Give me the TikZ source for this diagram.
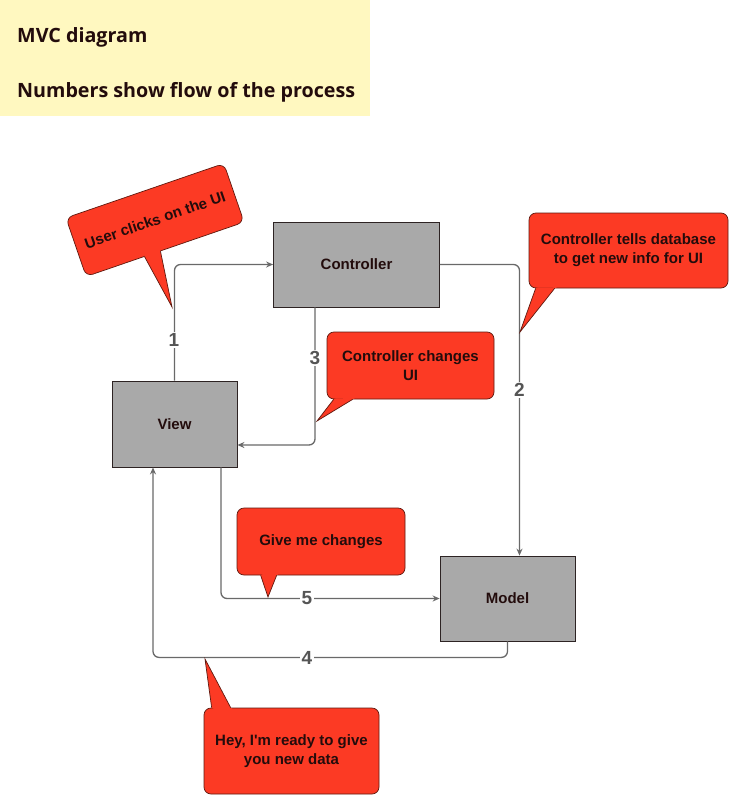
\documentclass[tikz,border=0pt]{standalone}
\usepackage{fontspec}
\setmainfont{Liberation Sans}
\newfontfamily\plainsans{Liberation Sans}
\newfontfamily\notefont{Open Sans}
\usetikzlibrary{arrows.meta,calc}
\definecolor{notey}{RGB}{255,248,192}
\definecolor{boxgray}{RGB}{169,169,169}
\definecolor{boxborder}{RGB}{45,35,35}
\definecolor{cred}{RGB}{252,58,36}
\definecolor{cborder}{RGB}{95,25,15}
\definecolor{txt}{RGB}{35,12,12}
\definecolor{linegray}{RGB}{105,105,105}
\definecolor{numgray}{RGB}{85,85,85}
\newcommand\calltail[4]{%
  \fill[cred] ($(#2)!2.5pt!(#1.center)$) -- (#2) -- (#4) -- (#3) -- ($(#3)!2.5pt!(#1.center)$) -- cycle;
  \draw[cborder, line width=0.7pt, line join=miter] (#2) -- (#4) -- (#3);}
\tikzset{
  box/.style={draw=boxborder, fill=boxgray, line width=0.8pt, inner sep=0pt,
    font=\bfseries\fontsize{15}{18}\selectfont, text=txt},
  callbox/.style={draw=cborder, fill=cred, rounded corners=7pt, line width=0.7pt,
    inner sep=0pt, align=center, font=\bfseries\fontsize{15}{19}\selectfont, text=txt},
  conn/.style={draw=linegray, line width=1.3pt, rounded corners=6pt,
    -{Stealth[length=7pt,width=6pt]}},
  lbl/.style={fill=white, text=numgray, inner sep=1.5pt,
    font=\bfseries\fontsize{19}{19}\selectfont},
  notetext/.style={anchor=base west, text=txt, inner sep=0pt,
    font=\notefont\bfseries\fontsize{19.7}{24}\selectfont}
}
\begin{document}
\begin{tikzpicture}[x=1pt,y=-1pt]
\useasboundingbox (0,0) rectangle (737,803);
\fill[white] (0,0) rectangle (737,803);
% note
\fill[notey] (0,0) rectangle (370,116);
\node[notetext] (t1) at (17,42) {MVC diagram};
\node[notetext] (t2) at (17,97) {Numbers show flow of the process};
% boxes
\node[box, minimum width=166pt, minimum height=85pt] (ctrl) at (356.5,264.5) {Controller};
\node[box, minimum width=125pt, minimum height=86pt] (view) at (174.5,424) {View};
\node[box, minimum width=135pt, minimum height=85pt] (model) at (507.5,598.5) {Model};
% connectors
\draw[conn] (view.north) |- (ctrl.west);
\draw[conn] (ctrl.east) -| ([xshift=12pt]model.north);
\draw[conn] ([xshift=-41.5pt]ctrl.south) |- ([yshift=-21pt]view.east);
\draw[conn] ([xshift=46.5pt]view.south) |- (model.west);
\coordinate (c4) at ([yshift=-16pt]model.south);
\draw[conn] (model.south) -- (c4) -| ([xshift=-21.5pt]view.south);
% number labels
\node[lbl] (n1) at (174,340) {1};
\node[lbl] (n2) at (519.5,390) {2};
\node[lbl] (n3) at (315,358) {3};
\node[lbl] (n4) at (307,658) {4};
\node[lbl] (n5) at (307,598) {5};
% callouts
\node[callbox, minimum width=167pt, minimum height=62pt, rotate=19] (uc) at (155,220) {User clicks on the UI};
\coordinate (uc-b1) at ($(uc.south west)!0.37!(uc.south east)$);
\coordinate (uc-b2) at ($(uc.south west)!0.47!(uc.south east)$);
\coordinate (uc-t) at (172,307);
\calltail{uc}{uc-b1}{uc-b2}{uc-t}

\node[callbox, minimum width=199pt, minimum height=75pt] (ctd) at (628.5,250.5) {Controller tells database\\to get new info for UI};
\coordinate (ctd-b1) at ([xshift=7pt]ctd.south west);
\coordinate (ctd-b2) at ([xshift=26pt]ctd.south west);
\coordinate (ctd-t) at (520,332);
\calltail{ctd}{ctd-b1}{ctd-b2}{ctd-t}

\node[callbox, minimum width=167pt, minimum height=67pt] (ccu) at (410.5,365.5) {Controller changes\\UI};
\coordinate (ccu-b1) at ([xshift=7pt]ccu.south west);
\coordinate (ccu-b2) at ([xshift=26pt]ccu.south west);
\coordinate (ccu-t) at (317,421);
\calltail{ccu}{ccu-b1}{ccu-b2}{ccu-t}

\node[callbox, minimum width=168pt, minimum height=67pt] (gmc) at (321,541.5) {Give me changes};
\coordinate (gmc-b1) at ([xshift=24pt]gmc.south west);
\coordinate (gmc-b2) at ([xshift=40pt]gmc.south west);
\coordinate (gmc-t) at (268,597);
\calltail{gmc}{gmc-b1}{gmc-b2}{gmc-t}

\node[callbox, minimum width=175pt, minimum height=86pt] (hey) at (291.5,751) {\plainsans\bfseries Hey, I'm ready to give\\\plainsans\bfseries you new data};
\coordinate (hey-b1) at ([xshift=8pt]hey.north west);
\coordinate (hey-b2) at ([xshift=27pt]hey.north west);
\coordinate (hey-t) at (205,659);
\calltail{hey}{hey-b1}{hey-b2}{hey-t}
\end{tikzpicture}
\end{document}
